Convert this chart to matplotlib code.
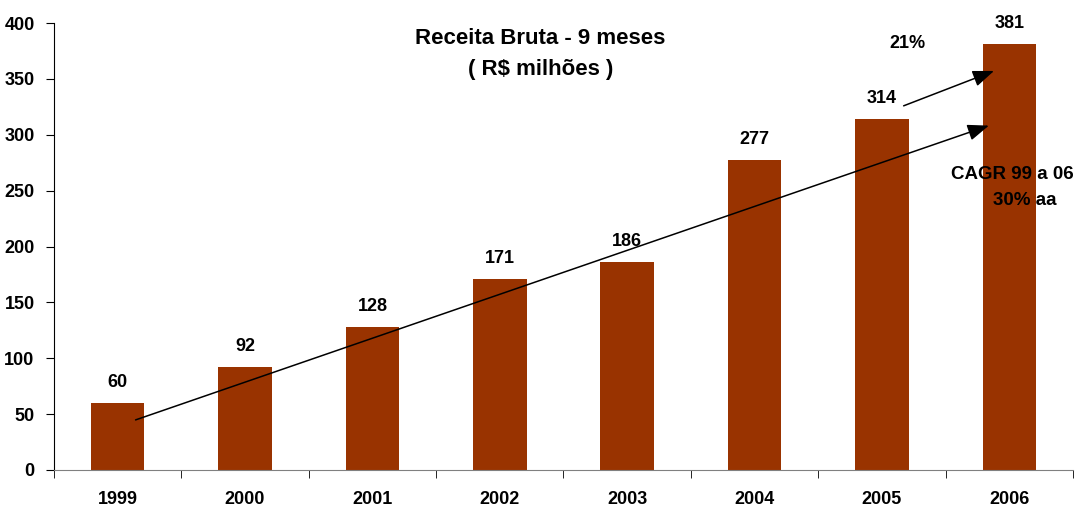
import numpy as np
import matplotlib.pyplot as plt

plt.rcParams['font.family'] = ['Liberation Sans', 'DejaVu Sans']

anos = ['1999', '2000', '2001', '2002', '2003', '2004', '2005', '2006']
receita = np.array([60, 92, 128, 171, 186, 277, 314, 381])

fig = plt.figure(figsize=(10.77, 5.07), dpi=100)
ax = fig.add_axes([0.0501, 0.073, 0.9462, 0.8816])

x = np.arange(len(anos))
ax.bar(x, receita, width=0.42, color='#993300', zorder=2)

for xi, v in zip(x, receita):
    ax.text(xi, v + 11, str(v), ha='center', va='bottom', fontsize=13, fontweight='bold')

ax.set_xlim(-0.5, len(anos) - 0.5)
ax.set_ylim(0, 400)
ax.set_yticks(np.arange(0, 401, 50))
ax.set_xticks(x)
ax.set_xticklabels(anos, fontsize=13, fontweight='bold')
ax.set_xticks(np.arange(-0.5, len(anos)), minor=True)
ax.tick_params(axis='x', which='major', length=0, pad=15)
ax.tick_params(axis='x', which='minor', length=6, direction='out', color='black')
ax.tick_params(axis='y', length=6, direction='out', labelsize=13, pad=8)
for lab in ax.get_yticklabels():
    lab.set_fontweight('bold')

ax.spines['top'].set_visible(False)
ax.spines['right'].set_visible(False)
ax.spines['bottom'].set_color('#808080')

ax.annotate('', xy=(6.86, 309), xytext=(0.12, 44),
            arrowprops=dict(arrowstyle='-|>,head_length=1.3,head_width=0.5', color='black', lw=1.1))
ax.annotate('', xy=(6.9, 358), xytext=(6.15, 325),
            arrowprops=dict(arrowstyle='-|>,head_length=1.3,head_width=0.5', color='black', lw=1.1))

ax.text(6.2, 382, '21%', ha='center', va='center', fontsize=13, fontweight='bold')
ax.text(7.02, 264, 'CAGR 99 a 06', ha='center', va='center', fontsize=13.5, fontweight='bold')
ax.text(7.12, 241, '30% aa', ha='center', va='center', fontsize=13.5, fontweight='bold')

ax.text(3.32, 386, 'Receita Bruta - 9 meses', ha='center', va='center', fontsize=16, fontweight='bold')
ax.text(3.32, 358, '( R$ milhões )', ha='center', va='center', fontsize=16, fontweight='bold')

fig.savefig('out.png', dpi=100)
